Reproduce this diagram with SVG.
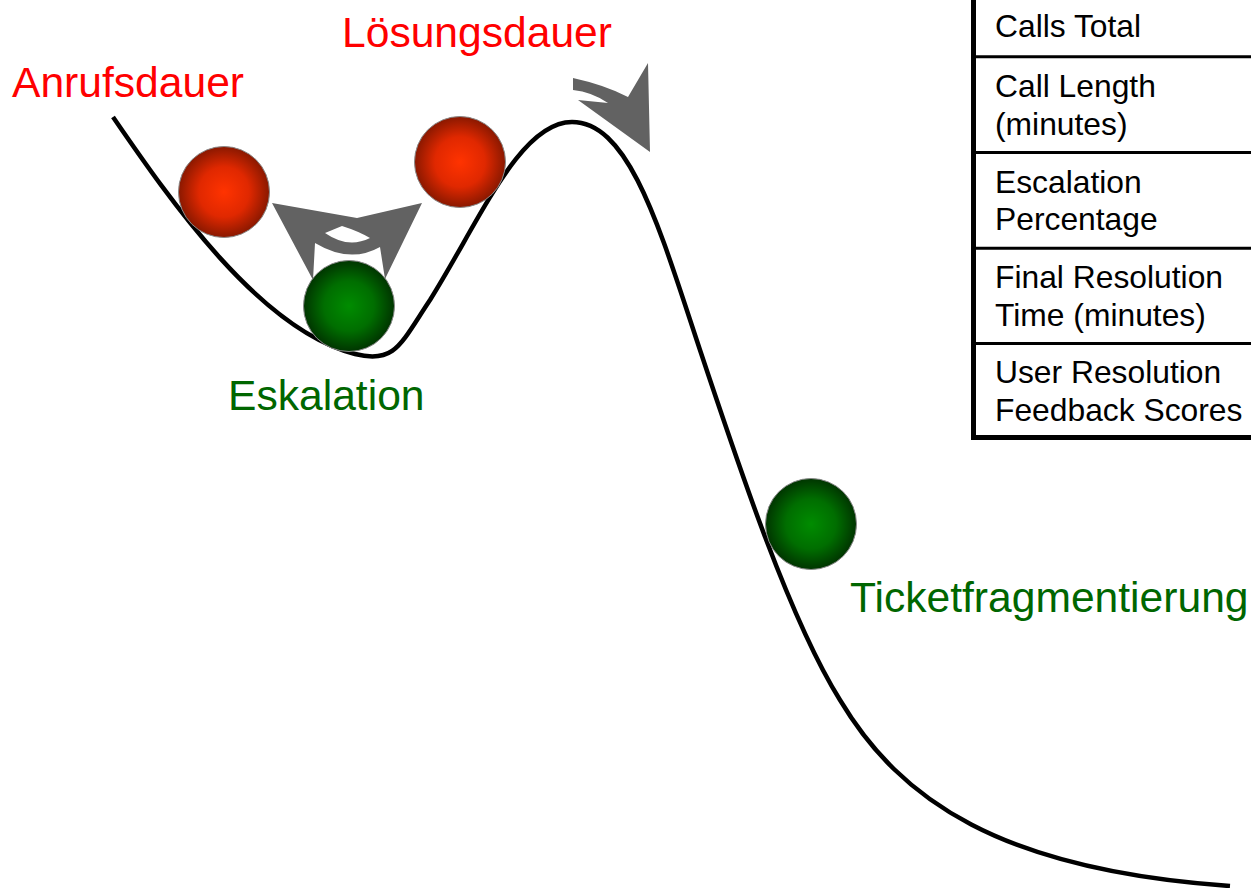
<svg xmlns="http://www.w3.org/2000/svg" width="1251" height="888" viewBox="0 0 1251 888">
<style>
.lbl{font-family:"Liberation Sans",Arial,sans-serif;font-size:42.6px}
.red{fill:#ff0000}
.grn{fill:#006600}
.tt{font-family:"Liberation Sans",Arial,sans-serif;font-size:31.8px;fill:#000}
.ball{stroke:#8a8a8a;stroke-width:1}
.arr{fill:#626262}
</style>
<defs>
<radialGradient id="gRed" cx="50%" cy="50%" r="50%">
<stop offset="0" stop-color="#ff3300"/>
<stop offset="0.55" stop-color="#e02800"/>
<stop offset="1" stop-color="#8a1800"/>
</radialGradient>
<radialGradient id="gGrn" cx="50%" cy="50%" r="50%">
<stop offset="0" stop-color="#008c00"/>
<stop offset="0.55" stop-color="#006e00"/>
<stop offset="1" stop-color="#003500"/>
</radialGradient>
</defs>
<rect width="1251" height="888" fill="#fff"/>
<g id="curve">
<path d="M113,117 C170,200 260,330 355,354 C395,364 400,345 430,300 C480,220 520,122 572,122 C630,122 660,230 700,350 C740,470 790,620 840,700 C900,800 1000,870 1230,886" fill="none" stroke="#000" stroke-width="4.5"/>
</g>
<g id="connectors">
<path class="arr" d="M272,203 L357,218 L422,203 L385,279 L380,247 Q350,264 315,243 L313,280 Z"/>
<path d="M325,233 L342,226 Q358,231 370,238 Q348,249 325,233 Z" fill="#fff"/>
<path class="arr" d="M573,78 Q605,85 628,97 L648,63 L650,152 L578,100 L608,103 Q592,92 573,90 Z"/>
</g>
<g id="ball-anrufsdauer"><circle class="ball" cx="224" cy="192" r="45.5" fill="url(#gRed)"/></g>
<g id="ball-loesungsdauer"><circle class="ball" cx="460" cy="162" r="45.5" fill="url(#gRed)"/></g>
<g id="ball-eskalation"><circle class="ball" cx="349" cy="306" r="45.5" fill="url(#gGrn)"/></g>
<g id="ball-ticket"><circle class="ball" cx="811" cy="524" r="45.5" fill="url(#gGrn)"/></g>
<g id="labels">
<text class="lbl red" x="12" y="97">Anrufsdauer</text>
<text class="lbl red" x="342" y="47">Lösungsdauer</text>
<text class="lbl grn" x="228" y="410">Eskalation</text>
<text class="lbl grn" x="850" y="612">Ticketfragmentierung</text>
</g>
<g id="table">
<rect x="973.5" y="-40" width="300" height="477" fill="#fff" stroke="none"/>
<line x1="973.5" y1="-5" x2="973.5" y2="440" stroke="#000" stroke-width="5"/>
<line x1="971" y1="437.5" x2="1260" y2="437.5" stroke="#000" stroke-width="5"/>
<line x1="973" y1="56.7" x2="1260" y2="56.7" stroke="#000" stroke-width="3"/>
<line x1="973" y1="152.5" x2="1260" y2="152.5" stroke="#000" stroke-width="3"/>
<line x1="973" y1="248.2" x2="1260" y2="248.2" stroke="#000" stroke-width="3"/>
<line x1="973" y1="343.5" x2="1260" y2="343.5" stroke="#000" stroke-width="3"/>
<text class="tt" x="995" y="37">Calls Total</text>
<text class="tt" x="995" y="97">Call Length</text>
<text class="tt" x="995" y="135">(minutes)</text>
<text class="tt" x="995" y="193">Escalation</text>
<text class="tt" x="995" y="230">Percentage</text>
<text class="tt" x="995" y="288">Final Resolution</text>
<text class="tt" x="995" y="326">Time (minutes)</text>
<text class="tt" x="995" y="383">User Resolution</text>
<text class="tt" x="995" y="421">Feedback Scores</text>
</g>
</svg>
